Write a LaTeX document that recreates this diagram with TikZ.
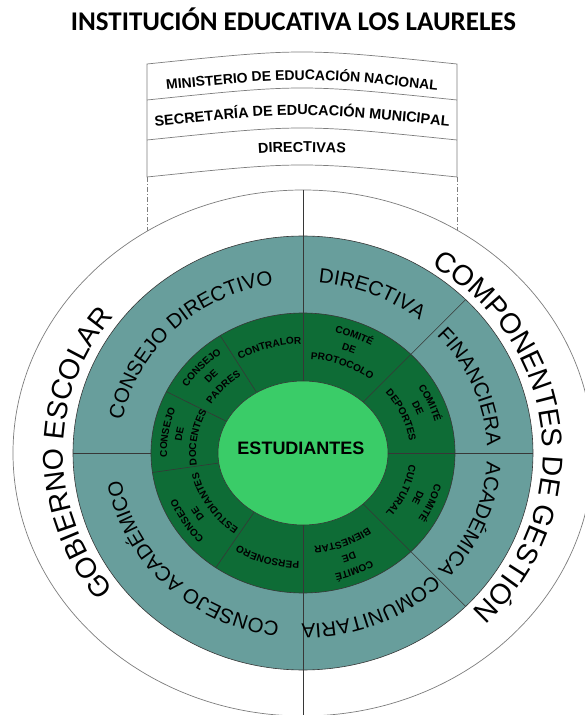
\documentclass[tikz,border=0pt]{standalone}
\usepackage{fontspec}
\setmainfont{Liberation Sans}
\newfontfamily\titulofont{Carlito}
\usetikzlibrary{decorations.text}
\definecolor{colteal}{RGB}{104,158,156}
\definecolor{colverde}{RGB}{14,108,54}
\definecolor{colclaro}{RGB}{58,204,104}
\definecolor{colborde}{RGB}{55,55,55}
\definecolor{colgris}{RGB}{125,125,125}

\newcommand{\rotulo}[6]{%
  \path[decorate, decoration={text along path, text align=center, text={|#5|#6}}]
    (#1+#2:#3 and #4) arc[start angle=#1+#2, end angle=#1-#2, x radius=#3, y radius=#4];}
\newcommand{\fuentecomite}{\bfseries\fontsize{10}{12}\selectfont}
\newcommand{\rotulotres}[4]{%
  \rotulo{#1}{40}{136}{124}{\fuentecomite}{#2}
  \rotulo{#1}{40}{122}{109}{\fuentecomite}{#3}
  \rotulo{#1}{40}{107}{94}{\fuentecomite}{#4}}

\begin{document}
\begin{tikzpicture}[x=1pt, y=1pt,
  banda/.style={draw=colgris, line width=0.7pt},
  linea/.style={draw=colborde, line width=0.6pt},
  trazo/.style={banda, dash pattern=on 5pt off 2pt on 1pt off 2pt}
]
  \useasboundingbox (-303,-262) rectangle (282,453);

  \node[anchor=base, font=\titulofont\bfseries\fontsize{27}{30}\selectfont] (titulo) at (-9.5,422)
    {INSTITUCIÓN EDUCATIVA LOS LAURELES};

  \path[fill=white, banda] (-156,389) .. controls (-1,405) .. (154,389) -- (154,276)
    .. controls (-1,292) .. (-156,276) -- cycle;
  \draw[banda] (-156,353) .. controls (-1,369) .. (154,353);
  \draw[banda] (-156,313) .. controls (-1,329) .. (154,313);
  \draw[trazo] (-156,276) -- (-156,222);
  \draw[trazo] (154,276) -- (154,223);
  \path[decorate, decoration={text along path, text align=center,
      text={|\bfseries\fontsize{14}{16}\selectfont|MINISTERIO DE EDUCACIÓN NACIONAL}}]
    (-156,361) .. controls (-1,377) .. (154,361);
  \path[decorate, decoration={text along path, text align=center,
      text={|\bfseries\fontsize{14.5}{16}\selectfont|SECRETARÍA DE EDUCACIÓN MUNICIPAL}}]
    (-156,326) .. controls (-1,342) .. (154,326);
  \path[decorate, decoration={text along path, text align=center,
      text={|\bfseries\fontsize{14.4}{16}\selectfont|DIRECTIVAS}}]
    (-156,289) .. controls (-1,305) .. (154,289);

  \filldraw[fill=white, draw=colgris, line width=0.7pt] (0,0) ellipse[x radius=290, y radius=263];
  \filldraw[fill=colteal, linea] (0,0) ellipse[x radius=230, y radius=217];
  \filldraw[fill=colverde, linea] (0,0) ellipse[x radius=152, y radius=140];

  \draw[linea] (0,263) -- (0,-263);
  \draw[linea] (180:152 and 140) -- (180:230 and 217);
  \foreach \a in {0,45,-45}
    \draw[linea] (\a:85 and 72) -- (\a:230 and 217);
  \foreach \a in {123,154,188,235}
    \draw[linea] (\a:85 and 72) -- (\a:152 and 140);

  \filldraw[fill=colclaro, linea] (0,0) ellipse[x radius=85, y radius=72];
  \node[font=\bfseries\fontsize{18}{20}\selectfont] (estudiantes) at (-2,4.5) {ESTUDIANTES};

  \rotulo{180}{70}{240}{222}{\fontsize{28.5}{30}\selectfont}{GOBIERNO ESCOLAR}
  \rotulo{6}{75}{240}{222}{\fontsize{28.5}{30}\selectfont}{COMPONENTES DE GESTIÓN}

  \rotulo{135}{60}{184}{171}{\fontsize{20.5}{22}\selectfont}{CONSEJO DIRECTIVO}
  \rotulo{225}{60}{184}{171}{\fontsize{20.5}{22}\selectfont}{CONSEJO ACADÉMICO}
  \rotulo{67.5}{40}{184}{171}{\fontsize{20.5}{22}\selectfont}{DIRECTIVA}
  \rotulo{22.5}{40}{184}{171}{\fontsize{20.5}{22}\selectfont}{FINANCIERA}
  \rotulo{-22.5}{40}{184}{171}{\fontsize{20.5}{22}\selectfont}{ACADÉMICA}
  \rotulo{-67.5}{40}{184}{171}{\fontsize{20.5}{22}\selectfont}{COMUNITARIA}

  \rotulo{106.5}{40}{122}{109}{\fuentecomite}{CONTRALOR}
  \rotulotres{138.5}{CONSEJO}{DE}{PADRES}
  \rotulotres{171}{CONSEJO}{DE}{DOCENTES}
  \rotulotres{211.5}{CONSEJO}{DE}{ESTUDIANTES}
  \rotulo{252.5}{40}{122}{109}{\fuentecomite}{PERSONERO}
  \rotulotres{292.5}{COMITÉ}{DE}{BIENESTAR}
  \rotulotres{337.5}{COMITÉ}{DE}{CULTURAL}
  \rotulotres{22.5}{COMITÉ}{DE}{DEPORTES}
  \rotulotres{67.5}{COMITÉ}{DE}{PROTOCOLO}
\end{tikzpicture}
\end{document}
